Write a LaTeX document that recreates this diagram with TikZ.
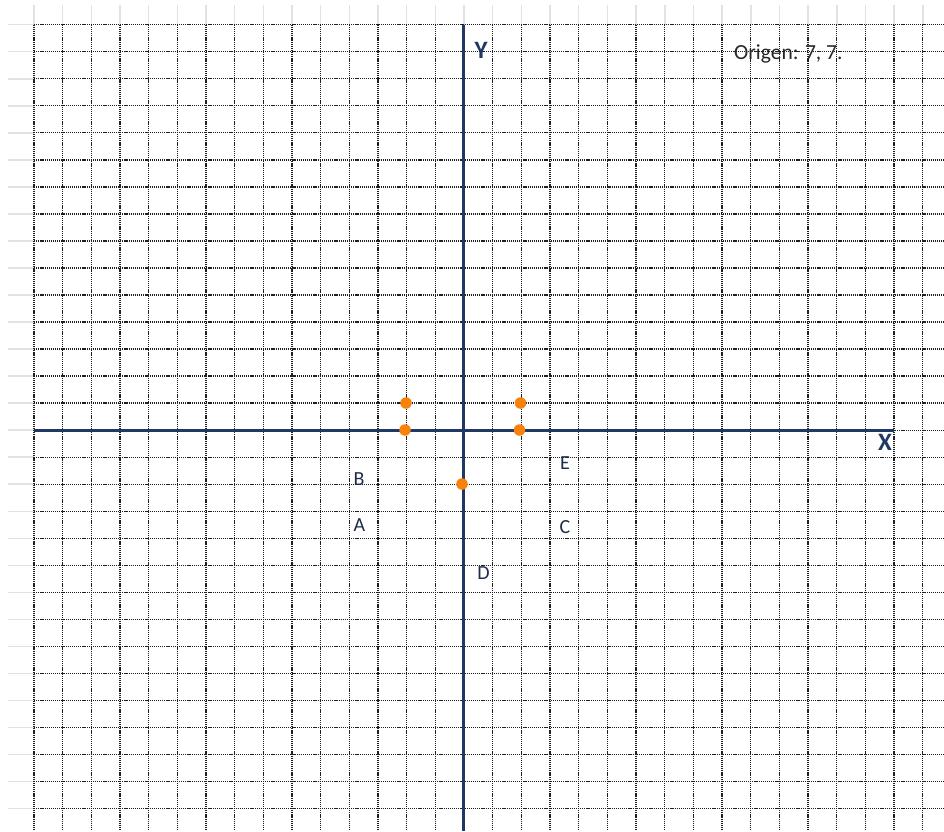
\documentclass[tikz,border=0pt]{standalone}
\usepackage{fontspec}
\setmainfont{Carlito}
\definecolor{axisblue}{HTML}{1F3864}
\definecolor{lblue}{HTML}{1F2D4A}
\definecolor{dotorange}{HTML}{F7820C}
\definecolor{gridgray}{HTML}{202020}
\definecolor{stubgray}{HTML}{E2E2E2}
\tikzset{
  gridline/.style={gridgray, line width=1.3pt, dash pattern=on 1.2pt off 0.9pt},
  stubline/.style={stubgray, line width=1.5pt},
  axisline/.style={axisblue, line width=3pt},
  ptdot/.style={circle, fill=dotorange, inner sep=0pt, minimum size=11.5pt},
  ptlabel/.style={inner sep=0pt, text=lblue, font=\fontsize{20}{20}\selectfont},
  axislabel/.style={inner sep=0pt, text=axisblue, font=\bfseries\fontsize{25}{25}\selectfont},
}
\begin{document}
\begin{tikzpicture}[x=1pt,y=-1pt]
\useasboundingbox (0,0) rectangle (944,831);
\fill[white] (0,0) rectangle (944,831);
% light header stubs
\foreach \k in {0,...,31} {
  \draw[stubline] ({34+28.67*\k},5) -- ({34+28.67*\k},24.7);
}
\foreach \k in {0,...,29} {
  \draw[stubline] (8,{24.7+27.03*\k}) -- (34,{24.7+27.03*\k});
}
% dotted grid
\foreach \k in {0,...,31} {
  \draw[gridline] ({34+28.67*\k},24.7) -- ({34+28.67*\k},831);
}
\foreach \k in {0,...,29} {
  \draw[gridline] (34,{24.7+27.03*\k}) -- (944,{24.7+27.03*\k});
}
% axes
\coordinate (xstart) at (34,430.2);
\coordinate (xend) at (894,430.2);
\coordinate (ystart) at (463,24.7);
\coordinate (yend) at (463,831);
\draw[axisline] (xstart) -- (xend);
\draw[axisline] (ystart) -- (yend);
\node[axislabel] (ylab) at (481,50) {Y};
\node[axislabel] (xlab) at (885,442) {X};
% title
\node[inner sep=0pt, anchor=base west, font=\fontsize{21.5}{21.5}\selectfont, text=black!85] (origen) at (734,59) {Origen: 7, 7.};
% points
\node[ptdot] (p1) at (406,403) {};
\node[ptdot] (p2) at (520.5,403) {};
\node[ptdot] (p3) at (405,430) {};
\node[ptdot] (p4) at (519.5,430) {};
\node[ptdot] (p5) at (462,484) {};
% letters
\node[ptlabel] (B) at (359,479) {B};
\node[ptlabel] (A) at (359.5,525) {A};
\node[ptlabel] (E) at (565,463) {E};
\node[ptlabel] (C) at (565,527) {C};
\node[ptlabel] (D) at (483.5,573) {D};
\end{tikzpicture}
\end{document}
